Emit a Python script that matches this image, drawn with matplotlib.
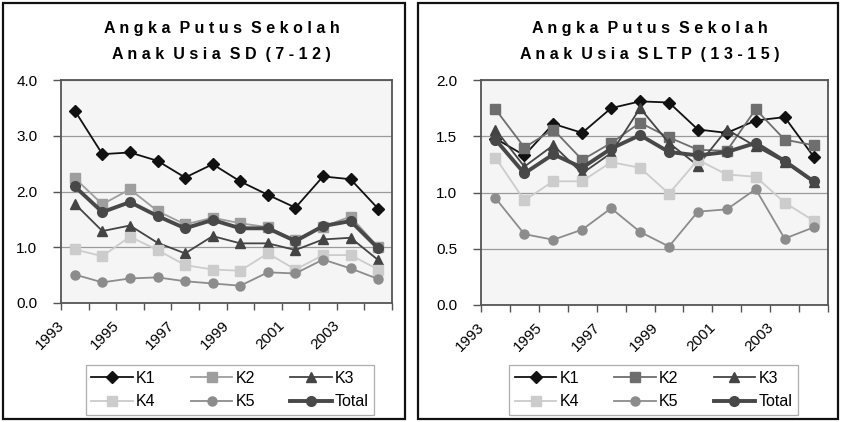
import matplotlib
matplotlib.use("Agg")
import matplotlib.pyplot as plt
from matplotlib.patches import Rectangle
from matplotlib.ticker import FixedLocator, NullFormatter
from matplotlib.transforms import ScaledTranslation

plt.rcParams['font.family'] = ['Liberation Sans', 'DejaVu Sans']

years = list(range(1993, 2005))
year_labels = [str(y) if (y - 1993) % 2 == 0 else "" for y in years]
series_names = ["K1", "K2", "K3", "K4", "K5", "Total"]

# Anak usia SD (7-12)
k1_sd = [3.45, 2.67, 2.70, 2.55, 2.25, 2.49, 2.18, 1.94, 1.71, 2.27, 2.22, 1.69]
k2_sd = [2.24, 1.77, 2.04, 1.65, 1.41, 1.53, 1.43, 1.36, 1.13, 1.37, 1.55, 1.00]
k3_sd = [1.78, 1.29, 1.39, 1.08, 0.89, 1.20, 1.07, 1.07, 0.95, 1.14, 1.17, 0.77]
k4_sd = [0.96, 0.84, 1.19, 0.95, 0.68, 0.60, 0.58, 0.89, 0.60, 0.86, 0.86, 0.60]
k5_sd = [0.51, 0.37, 0.44, 0.46, 0.39, 0.35, 0.31, 0.55, 0.53, 0.78, 0.62, 0.43]
total_sd = [2.09, 1.63, 1.81, 1.56, 1.34, 1.49, 1.34, 1.34, 1.11, 1.38, 1.47, 0.98]

# Anak usia SLTP (13-15)
k1_sltp = [1.48, 1.33, 1.61, 1.53, 1.75, 1.81, 1.80, 1.56, 1.53, 1.64, 1.67, 1.32]
k2_sltp = [1.74, 1.40, 1.56, 1.29, 1.44, 1.62, 1.49, 1.38, 1.37, 1.74, 1.47, 1.42]
k3_sltp = [1.56, 1.23, 1.42, 1.17, 1.35, 1.75, 1.44, 1.24, 1.56, 1.41, 1.27, 1.09]
k4_sltp = [1.31, 0.93, 1.10, 1.10, 1.27, 1.22, 0.99, 1.29, 1.16, 1.14, 0.91, 0.75]
k5_sltp = [0.95, 0.63, 0.58, 0.67, 0.86, 0.65, 0.52, 0.83, 0.85, 1.03, 0.59, 0.69]
total_sltp = [1.47, 1.17, 1.34, 1.22, 1.39, 1.51, 1.36, 1.33, 1.36, 1.44, 1.28, 1.10]


def spaced(text):
    return "  ".join(" ".join(w) for w in text.split(" "))


def style_for(k2_color):
    return [
        dict(color="#111111", marker="D", ms=6, lw=1.3),
        dict(color=k2_color, marker="s", ms=6.5, lw=1.3),
        dict(color="#444444", marker="^", ms=7.5, lw=1.3),
        dict(color="#cccccc", marker="s", ms=6.5, lw=1.3),
        dict(color="#8c8c8c", marker="o", ms=6.5, lw=1.3),
        dict(color="#484848", marker="o", ms=7, lw=2.8),
    ]


def draw_panel(fig, rect, title, data, ymax, ystep, k2_color, legend_rect):
    ax = fig.add_axes(rect)
    ax.set_facecolor("#f5f5f5")
    x = list(range(len(years)))
    handles = []
    for name, vals, st in zip(series_names, data, style_for(k2_color)):
        h, = ax.plot(x, vals, color=st["color"], lw=st["lw"], marker=st["marker"],
                     ms=st["ms"], mfc=st["color"], mec=st["color"], label=name)
        handles.append(h)
    ax.set_xlim(-0.5, len(years) - 0.5)
    ax.set_ylim(0, ymax)
    yt = [i * ystep for i in range(int(round(ymax / ystep)) + 1)]
    ax.set_yticks(yt)
    ax.set_yticklabels([f"{v:.1f}" for v in yt], fontsize=11)
    ax.yaxis.grid(True, color="#9a9a9a", lw=0.9)
    ax.set_axisbelow(True)
    ax.set_xticks(x)
    ax.set_xticklabels(year_labels, rotation=45, ha="right", fontsize=11)
    ax.tick_params(axis="x", which="major", length=0, pad=11)
    shift = ScaledTranslation(-8 / 100, 0, fig.dpi_scale_trans)
    for lab in ax.get_xticklabels():
        lab.set_transform(lab.get_transform() + shift)
    ax.xaxis.set_minor_locator(FixedLocator([i - 0.5 for i in range(len(years) + 1)]))
    ax.xaxis.set_minor_formatter(NullFormatter())
    ax.tick_params(axis="x", which="minor", length=5, color="#555555", width=1)
    ax.tick_params(axis="y", length=6, color="#555555", width=1, pad=11)
    for s in ax.spines.values():
        s.set_color("#555555")
        s.set_linewidth(1.3)

    cx = rect[0] + rect[2] / 2 - 0.006
    fig.text(cx, 1 - 29 / 422, spaced(title[0]), ha="center", va="center",
             fontsize=11.5, fontweight="bold", family=["Liberation Sans Narrow", "Liberation Sans"])
    fig.text(cx, 1 - 54 / 422, spaced(title[1]), ha="center", va="center",
             fontsize=11.5, fontweight="bold", family=["Liberation Sans Narrow", "Liberation Sans"])

    order = [0, 3, 1, 4, 2, 5]
    leg = fig.legend([handles[i] for i in order], [series_names[i] for i in order],
                     ncol=3, loc="center", bbox_to_anchor=legend_rect,
                     fontsize=11.5, frameon=True, fancybox=False, handlelength=2.6,
                     columnspacing=2.2, handletextpad=0.2, borderpad=0.35,
                     labelspacing=0.55)
    leg.get_frame().set_edgecolor("#999999")
    leg.get_frame().set_linewidth(0.9)
    return ax


W, H = 842, 422
fig = plt.figure(figsize=(W / 100, H / 100), dpi=100)

for (x0, x1) in [(3, 405), (418, 838)]:
    fig.add_artist(Rectangle((x0 / W, 3 / H), (x1 - x0) / W, (419 - 3) / H,
                             transform=fig.transFigure, fill=False,
                             edgecolor="#111111", lw=1.6))

draw_panel(fig, [61 / W, 119 / H, 331 / W, 223 / H],
           ("Angka Putus Sekolah", "Anak Usia SD (7-12)"),
           [k1_sd, k2_sd, k3_sd, k4_sd, k5_sd, total_sd], 4.0, 1.0, "#9e9e9e",
           (85 / W, 1 - 417 / H, 290 / W, 54 / H))

draw_panel(fig, [481 / W, 117 / H, 347 / W, 225 / H],
           ("Angka Putus Sekolah", "Anak Usia SLTP (13-15)"),
           [k1_sltp, k2_sltp, k3_sltp, k4_sltp, k5_sltp, total_sltp], 2.0, 0.5, "#6e6e6e",
           (506 / W, 1 - 417 / H, 295 / W, 54 / H))

fig.savefig("out.png", dpi=100)
